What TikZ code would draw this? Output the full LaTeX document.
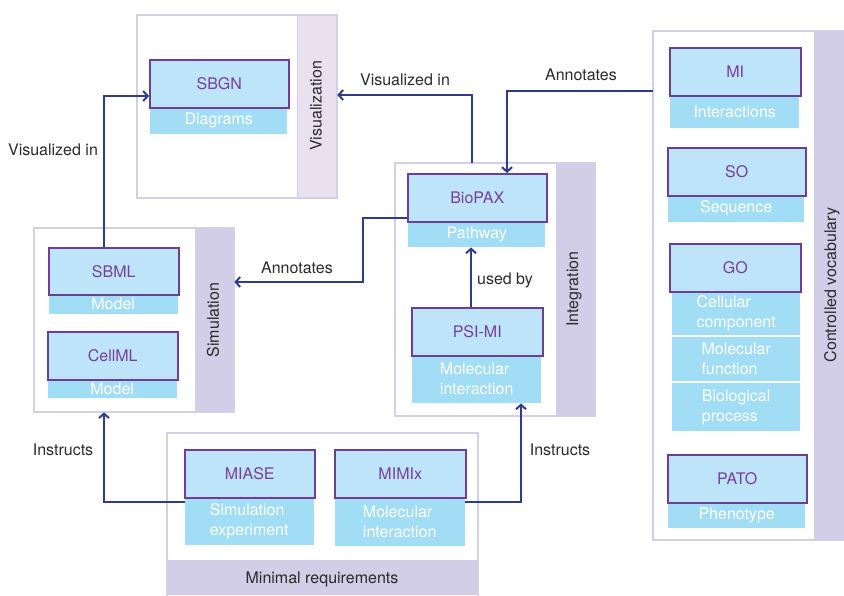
\documentclass[tikz,border=0pt]{standalone}
\usepackage{fontspec}
\setmainfont{TeX Gyre Heros}
\usetikzlibrary{arrows.meta,calc}
\definecolor{arrowblue}{HTML}{2F3B8F}
\definecolor{boxfill}{HTML}{BDE4F8}
\definecolor{boxedge}{HTML}{6E3D96}
\definecolor{stripfill}{HTML}{A2DDF6}
\definecolor{titlecol}{HTML}{7A3E98}
\definecolor{panelline}{HTML}{D3CFE6}
\definecolor{sidefill}{HTML}{D2CEE7}
\definecolor{sidelight}{HTML}{E9E1EF}
\definecolor{labelcol}{HTML}{2A2A2A}
\tikzset{
  fsz/.style={font=\fontsize{16}{20}\selectfont},
  panel/.style={draw=panelline, line width=1.3pt, fill=white, anchor=north west, inner sep=0pt},
  side/.style={fill=sidefill, anchor=north west, inner sep=0pt},
  sidetext/.style={fsz, text=labelcol, rotate=90},
  titlebox/.style={draw=boxedge, line width=1.5pt, fill=boxfill, anchor=north west, inner sep=0pt, fsz, text=titlecol},
  stripbox/.style={fill=stripfill, anchor=north west, inner sep=0pt, fsz, text=white, align=left},
  arr/.style={draw=arrowblue, line width=2pt, -{Straight Barb[length=4.5pt,width=10pt,line width=2pt]}},
  lbl/.style={fsz, text=labelcol}
}
\begin{document}
\begin{tikzpicture}[x=1pt,y=-1pt]
\useasboundingbox (0,0) rectangle (844,595);

% ---------- Visualization panel
\node[panel, minimum width=199pt, minimum height=182pt] (vis) at (137,15) {};
\node[side, fill=sidelight, minimum width=38pt, minimum height=181pt] (visside) at (297.5,15.5) {};
\node[sidetext] (vislbl) at (316,106) {Visualization};
\draw[panelline, line width=1.3pt] (vis.north west) rectangle (vis.south east);
\draw[panelline, line width=1.3pt] (visside.north west) -- (visside.south west);
\node[stripbox, minimum width=137pt, minimum height=27pt] (diag) at (150,107) {Diagrams};
\node[titlebox, minimum width=139pt, minimum height=48pt] (sbgn) at (149,59) {SBGN};

% ---------- Integration panel
\node[panel, minimum width=199pt, minimum height=252pt] (intg) at (395,163) {};
\node[side, minimum width=38pt, minimum height=251pt] (intgside) at (555.5,163.5) {};
\node[sidetext] (intglbl) at (574,289) {Integration};
\draw[panelline, line width=1.3pt] (intg.north west) rectangle (intg.south east);
\node[stripbox, minimum width=137pt, minimum height=26pt] (pathway) at (408,221) {Pathway};
\node[titlebox, minimum width=139pt, minimum height=48pt] (biopax) at (407,173) {BioPAX};
\node[stripbox, minimum width=129pt, minimum height=48pt] (molint) at (412,355) {Molecular\\interaction};
\node[titlebox, minimum width=131pt, minimum height=48pt] (psimi) at (411,307) {PSI-MI};

% ---------- Simulation panel
\node[panel, minimum width=199pt, minimum height=183pt] (sim) at (34,228) {};
\node[side, minimum width=38pt, minimum height=182pt] (simside) at (194.5,228.5) {};
\node[sidetext] (simlbl) at (213,320) {Simulation};
\draw[panelline, line width=1.3pt] (sim.north west) rectangle (sim.south east);
\node[stripbox, minimum width=129pt, minimum height=20pt] (model1) at (48.5,294) {Model};
\node[titlebox, minimum width=130pt, minimum height=47pt] (sbml) at (48,247) {SBML};
\node[stripbox, minimum width=129pt, minimum height=19pt] (model2) at (47.5,379) {Model};
\node[titlebox, minimum width=130pt, minimum height=48pt] (cellml) at (47,331) {CellML};

% ---------- Minimal requirements panel
\node[panel, minimum width=310pt, minimum height=166pt] (minreq) at (167,433) {};
\node[side, minimum width=309pt, minimum height=35pt] (minside) at (167.5,560) {};
\node[lbl] (minlbl) at (322,579) {Minimal requirements};
\draw[panelline, line width=1.3pt] (minreq.north west) rectangle (minreq.south east);
\node[stripbox, minimum width=129pt, minimum height=48pt] (simexp) at (184.5,497) {Simulation\\experiment};
\node[titlebox, minimum width=130pt, minimum height=48pt] (miase) at (184,449) {MIASE};
\node[stripbox, minimum width=130pt, minimum height=49pt] (molint2) at (334.5,497) {Molecular\\interaction};
\node[titlebox, minimum width=131pt, minimum height=48pt] (mimix) at (334,449) {MIMIx};

% ---------- Controlled vocabulary panel
\node[panel, minimum width=200pt, minimum height=508pt] (cv) at (653,31) {};
\node[side, minimum width=38pt, minimum height=507pt] (cvside) at (813.5,31.5) {};
\node[sidetext] (cvlbl) at (832,285) {Controlled vocabulary};
\draw[panelline, line width=1.3pt] (cv.north west) rectangle (cv.south east);
\node[stripbox, minimum width=129pt, minimum height=33pt] (inter) at (670,95) {Interactions};
\node[titlebox, minimum width=131pt, minimum height=48pt] (mi) at (669,47) {MI};
\node[stripbox, minimum width=136pt, minimum height=27pt] (seq) at (668,195) {Sequence};
\node[titlebox, minimum width=138pt, minimum height=48pt] (so) at (667,147) {SO};
\node[stripbox, minimum width=128pt, minimum height=44pt] (cc) at (672,291) {Cellular\\component};
\node[stripbox, minimum width=128pt, minimum height=44pt] (mf) at (672,337) {Molecular\\function};
\node[stripbox, minimum width=128pt, minimum height=48pt] (bp) at (672,383) {Biological\\process};
\node[titlebox, minimum width=131pt, minimum height=48pt] (go) at (669,243) {GO};
\node[stripbox, minimum width=137pt, minimum height=26pt] (pheno) at (668,502) {Phenotype};
\node[titlebox, minimum width=139pt, minimum height=48pt] (pato) at (667,454) {PATO};

% ---------- Connectors
\coordinate (annbend) at (363,282);
\draw[arr] (sbml.north -| 104,0) |- (sbgn.west |- 0,96);
\draw[arr] (intg.north -| 472,0) |- (vis.east |- 0,95);
\draw[arr] (cv.west |- 0,91) -| (biopax.north -| 507,0);
\draw[arr] (biopax.west |- 0,218) -| (annbend) -- (sim.east |- annbend);
\draw[arr] (psimi.north -| 471,0) -- (pathway.south -| 471,0);
\draw[arr] (simexp.west |- 0,502) -| (sim.south -| 104,0);
\draw[arr] (molint2.east |- 0,502) -| (molint.south -| 521,0);

% ---------- Connector labels
\node[lbl] (l1) at (53,150) {Visualized in};
\node[lbl] (l2) at (405,80) {Visualized in};
\node[lbl] (l3) at (581,75) {Annotates};
\node[lbl] (l4) at (297,268) {Annotates};
\node[lbl] (l5) at (505,280) {used by};
\node[lbl] (l6) at (63,450) {Instructs};
\node[lbl] (l7) at (560,450) {Instructs};
\end{tikzpicture}
\end{document}
